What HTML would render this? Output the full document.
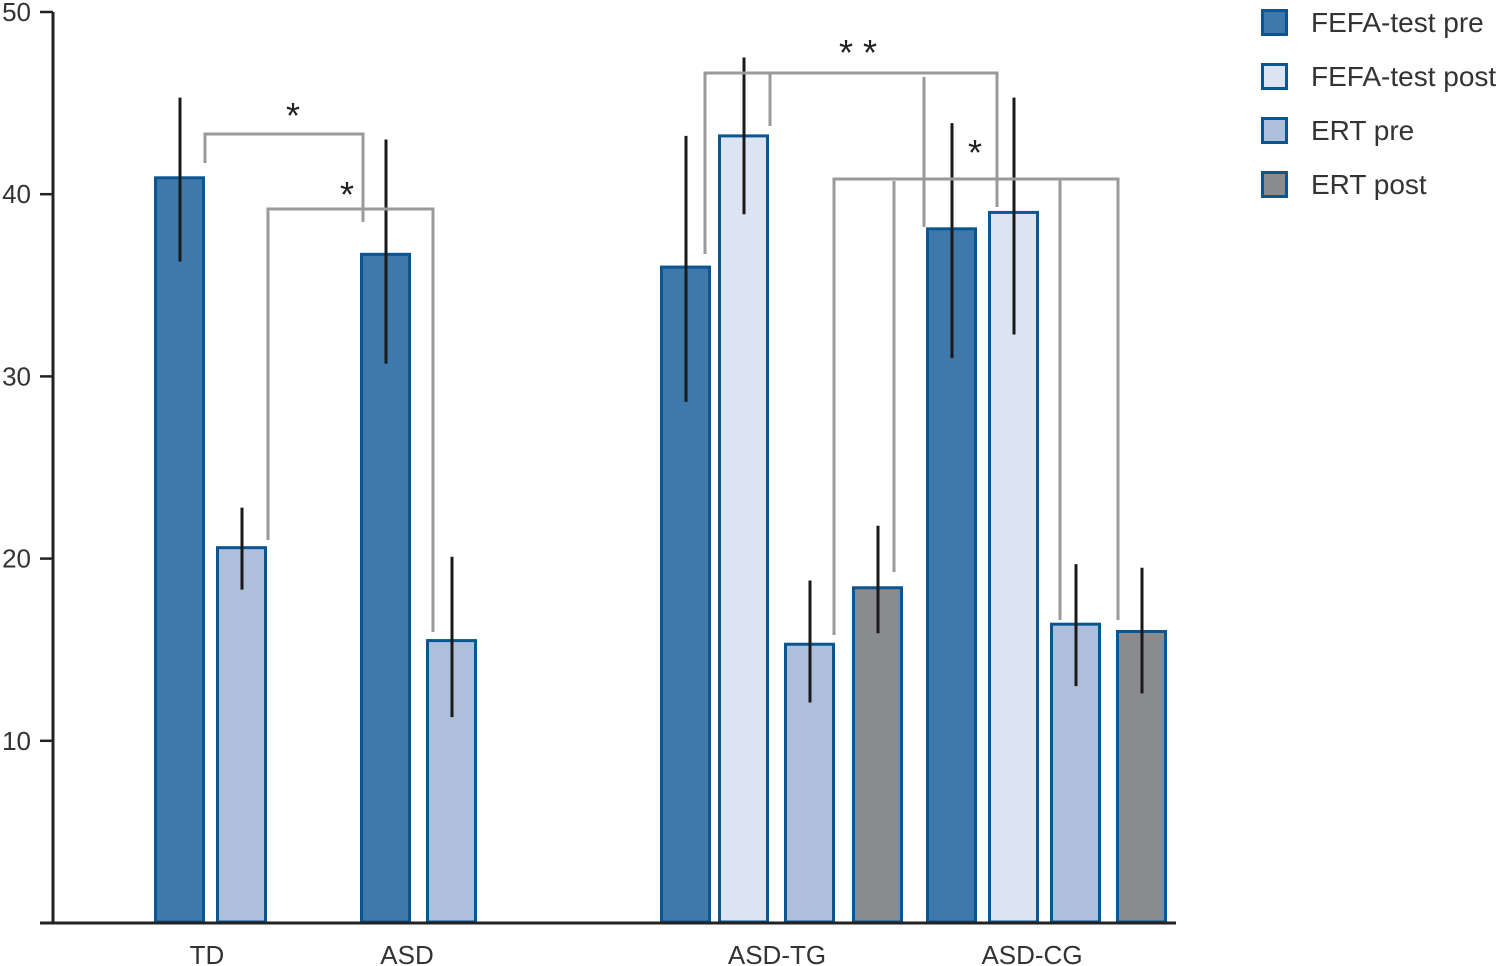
<!DOCTYPE html>
<html><head><meta charset="utf-8"><style>
body{margin:0;background:#fff;}
svg{display:block;font-family:"Liberation Sans",sans-serif;}
</style></head><body>
<svg id="chart" width="1497" height="966"></svg>
<script>
const categories=["TD","ASD","ASD-TG","ASD-CG"];
const barValues=[40.9,20.6,36.7,15.5,36.0,43.2,15.3,18.4,38.1,39.0,16.4,16.0];
const errLow=[36.3,18.3,30.7,11.3,28.6,38.9,12.1,15.9,31.0,32.3,13.0,12.6];
const errHigh=[45.3,22.8,43.0,20.1,43.2,47.5,18.8,21.8,43.9,45.3,19.7,19.5];
const barSeries=[0,2,0,2,0,1,2,3,0,1,2,3];
const barCat=[0,0,1,1,2,2,2,2,3,3,3,3];
const seriesNames=["FEFA-test pre","FEFA-test post","ERT pre","ERT post"];
const yTicks=[10,20,30,40,50];

const NS="http://www.w3.org/2000/svg";
const svg=document.getElementById('chart');
const colors=["#3f78ab","#dce3f1","#aebfdc","#8a8b8f"];
const barLefts=[154,216,360,426,660,718,784,852,926,988,1050,1116];
const catX=[207,407,777,1032];
function y(v){return 923-v*18.22;}
function el(t,a,p){const e=document.createElementNS(NS,t);for(const k in a)e.setAttribute(k,a[k]);(p||svg).appendChild(e);return e;}

// bars
barValues.forEach((v,i)=>{
  const r=el('rect',{x:barLefts[i]+1.5,y:y(v),width:48,height:y(0)-y(v)-1,fill:colors[barSeries[i]],stroke:"#0b5591","stroke-width":3});
  
  
});
// error bars
barValues.forEach((v,i)=>{
  const cx=barLefts[i]+26;
  const l=el('line',{x1:cx,x2:cx,y1:y(errLow[i]),y2:y(errHigh[i]),stroke:"#1a1a1a","stroke-width":3});
  
  
});
// axes
const ax=el('path',{d:"M53 12 V923 M40 923 H1176",stroke:"#222","stroke-width":3,fill:"none"});


yTicks.forEach(t=>{
  const tk=el('line',{x1:40,x2:53,y1:y(t),y2:y(t),stroke:"#222","stroke-width":2.5});
  
  
  const tx=el('text',{x:31,y:y(t)+9,"text-anchor":"end","font-size":26,fill:"#333"});
  tx.textContent=t;
  
  
});
categories.forEach((c,i)=>{
  const tx=el('text',{x:catX[i],y:964,"text-anchor":"middle","font-size":26,fill:"#333"});
  tx.textContent=c;
  
  
});
// significance brackets
const br=[
 "M205 163 V134 H363 V222",
 "M268 540 V209 H433 V632",
 "M705 254 V73 H997 V207 M770 73 V126 M924 77 V227",
 "M834 635 V179 H1118 V620 M894 181 V572 M1060 179 V620"
];
br.forEach(d=>{
  const p=el('path',{d:d,stroke:"#9a9a9a","stroke-width":3,fill:"none"});
  
  
});
[[293,128,"*"],[347,207,"*"],[858,65,"* *"],[975,165,"*"]].forEach(s=>{
  const t=el('text',{x:s[0],y:s[1],"text-anchor":"middle","font-size":36,fill:"#222"});
  t.textContent=s[2];
  
  
});
// legend
seriesNames.forEach((n,i)=>{
  const g=el('g',{});
  
  
  el('rect',{x:1262.5,y:10.5+i*54,width:24,height:24,fill:colors[i],stroke:"#0b5591","stroke-width":3},g);
  const t=el('text',{x:1311,y:32+i*54,"font-size":28,fill:"#333"},g);
  t.textContent=n;
});
</script>
</body></html>
